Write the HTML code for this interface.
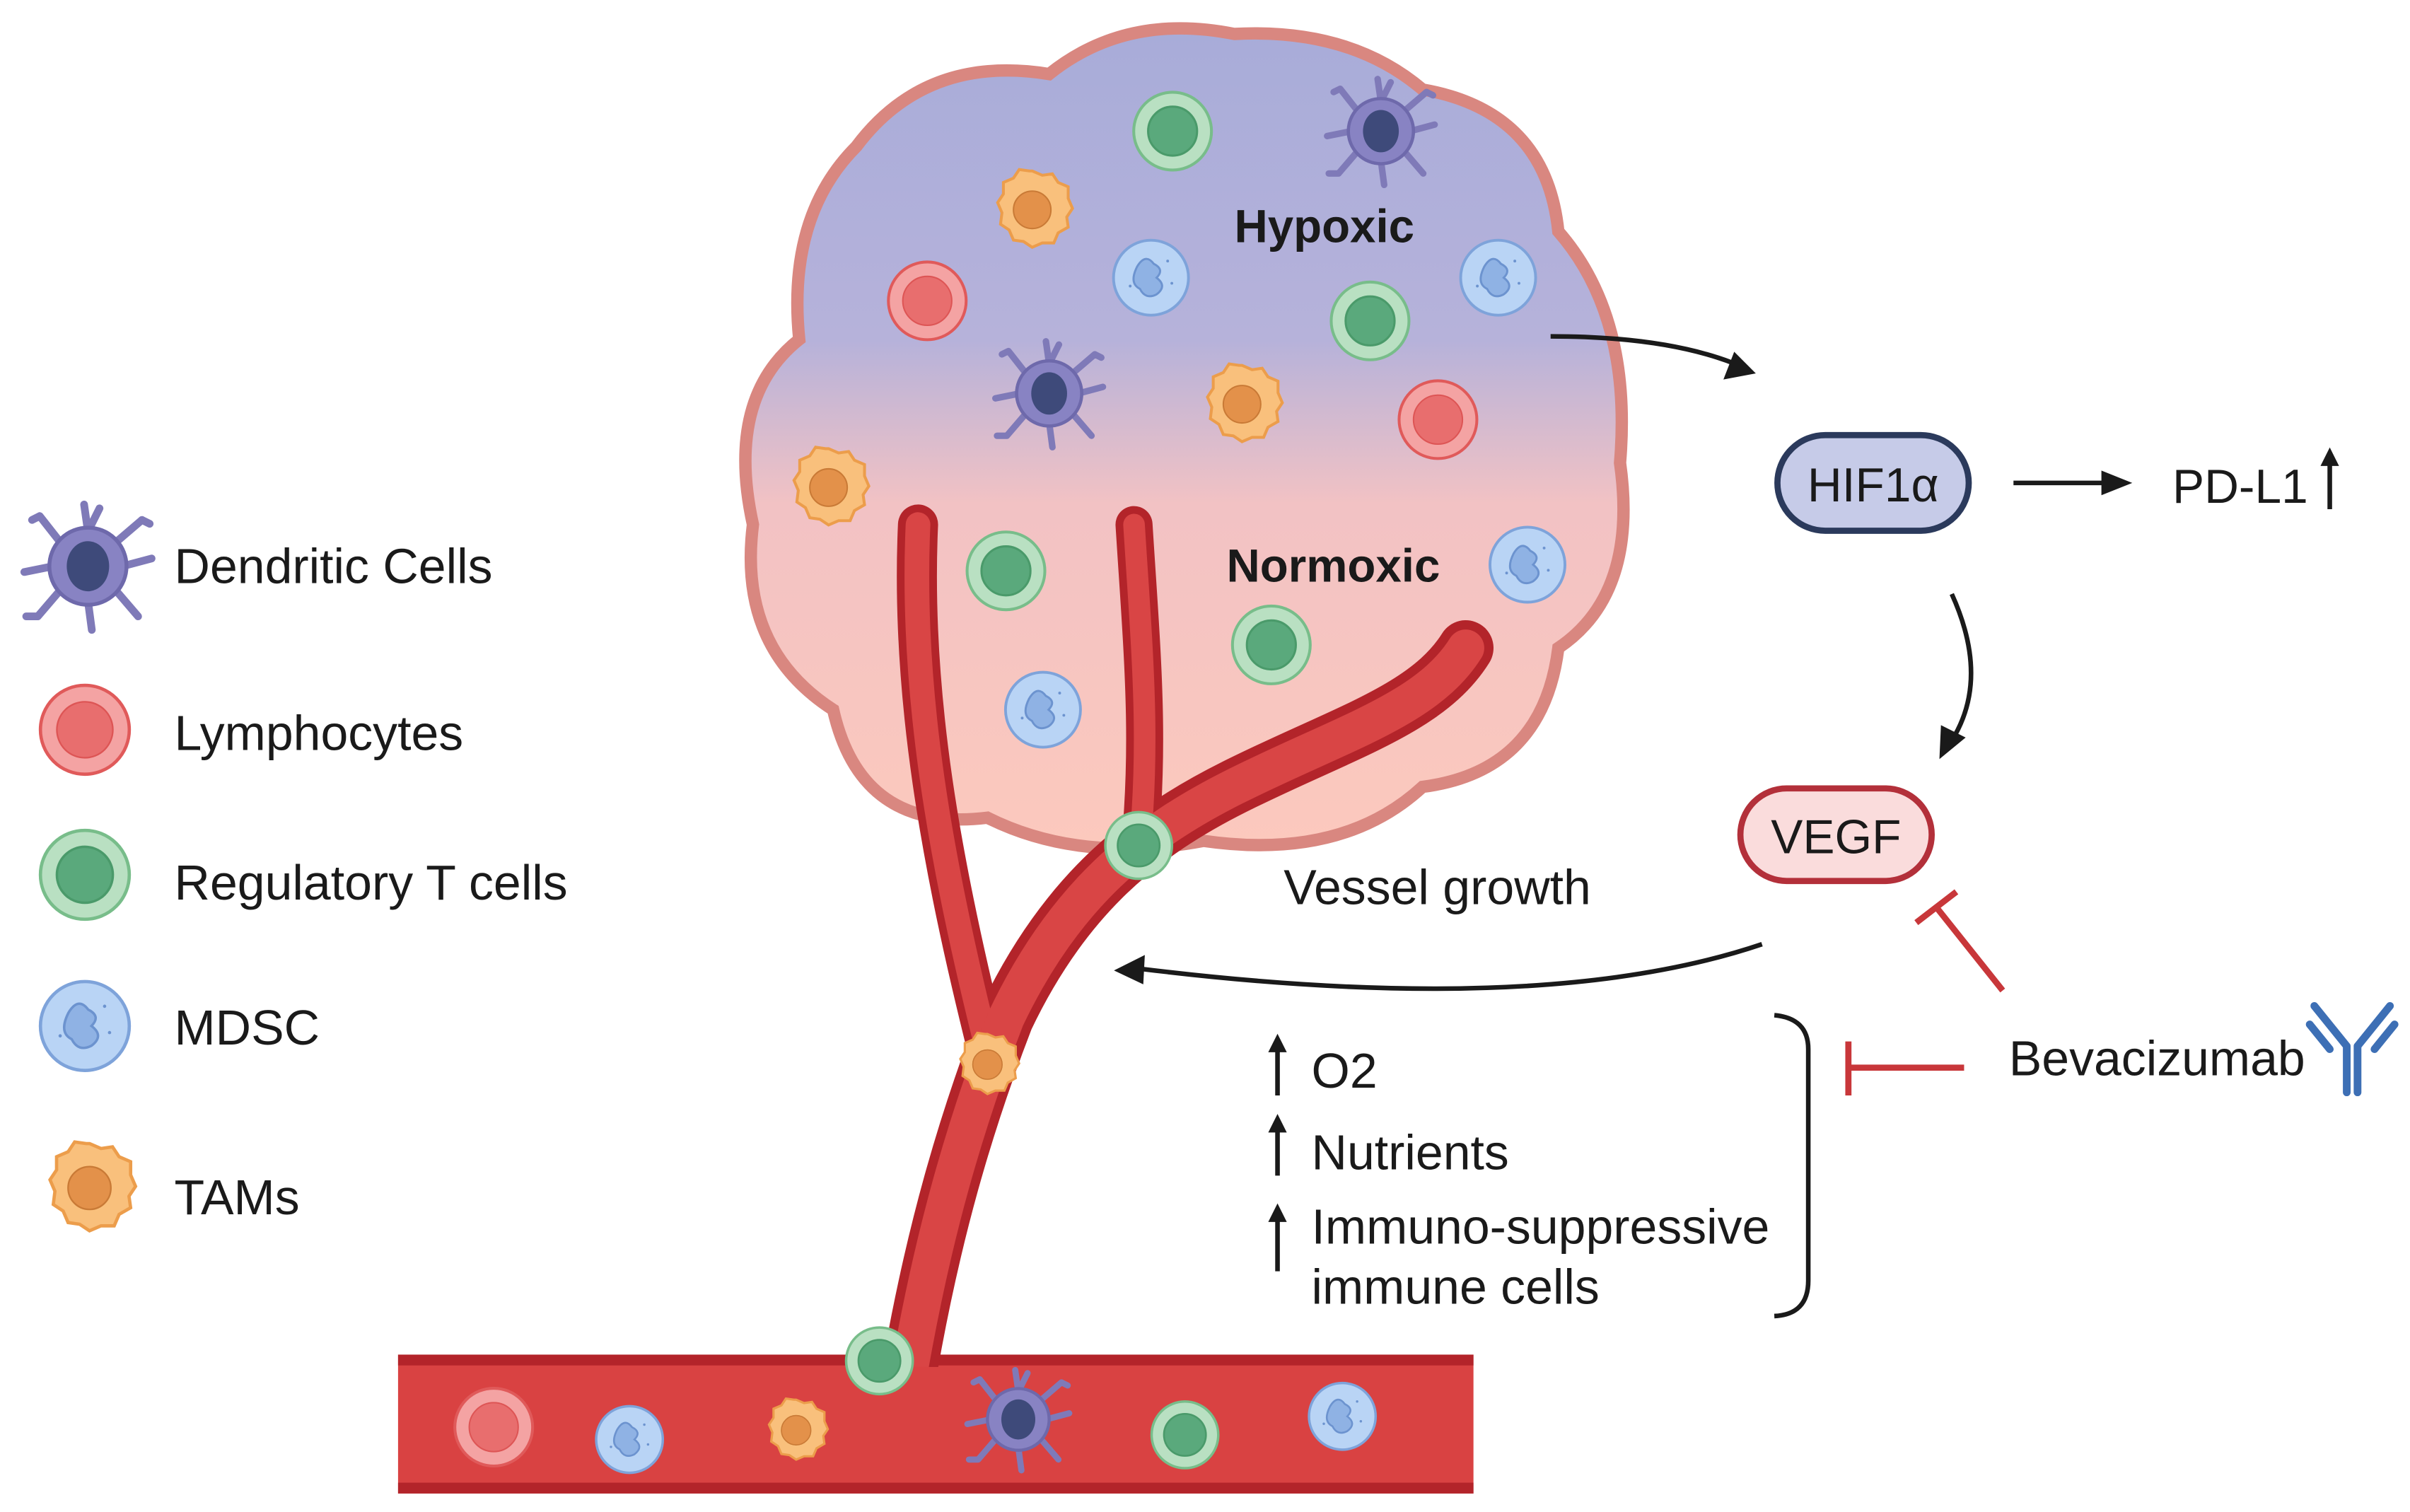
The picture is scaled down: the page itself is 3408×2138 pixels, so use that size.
<!DOCTYPE html>
<html><head><meta charset="utf-8"><style>html,body{margin:0;padding:0;background:#fff}svg{display:block}text{font-family:"Liberation Sans",Arial,sans-serif;fill:#1a1a1a}</style></head><body>
<svg width="3408" height="2138" viewBox="0 0 1562 980" preserveAspectRatio="none" xmlns="http://www.w3.org/2000/svg">
<defs>
<linearGradient id="tg" x1="0" y1="0" x2="0" y2="1">
<stop offset="0" stop-color="#a8acd9"/><stop offset="0.38" stop-color="#b6b2da"/><stop offset="0.58" stop-color="#f2c2c4"/><stop offset="1" stop-color="#fcc9bd"/></linearGradient>
<symbol id="treg" viewBox="-30 -30 60 60"><circle r="27" fill="#b9e0c2" stroke="#78bd8a" stroke-width="2"/><circle r="17" fill="#5aa97c" stroke="#4a9a6a" stroke-width="1.5"/></symbol>
<symbol id="lym" viewBox="-30 -30 60 60"><circle r="27" fill="#f4a3a3" stroke="#e05a5a" stroke-width="2"/><circle r="17" fill="#e86e6e" stroke="#d55" stroke-width="1"/></symbol>
<symbol id="mdsc" viewBox="-30 -30 60 60"><circle r="27" fill="#b9d4f5" stroke="#7ea3da" stroke-width="2"/><path d="M-10,-8 q6,-10 12,-2 q8,4 2,10 q8,6 0,12 q-8,4 -12,-4 q-8,-4 -2,-16z" fill="#8fb2e4" stroke="#6c93cf" stroke-width="1.5"/><circle cx="12" cy="-12" r="1" fill="#6c93cf"/><circle cx="15" cy="4" r="1" fill="#6c93cf"/><circle cx="-15" cy="6" r="1" fill="#6c93cf"/></symbol>
<symbol id="tam" viewBox="-30 -30 60 60"><path d="M0,-27 l7,3 l7,-1 l4,6 l7,3 l0,8 l3,7 l-4,6 l1,7 l-7,4 l-3,7 l-8,0 l-7,3 l-6,-4 l-7,-1 l-3,-7 l-6,-4 l1,-8 l-3,-7 l4,-6 l0,-8 l7,-3 l4,-6 l7,1z" fill="#f9c07c" stroke="#ec9d4b" stroke-width="2"/><circle r="13" fill="#e3914a" stroke="#c97a36" stroke-width="1"/></symbol>
<symbol id="dc" viewBox="-36 -36 72 72"><g stroke="#7f7ab8" stroke-width="4" stroke-linecap="round" fill="none"><path d="M0,-18 L-2,-32 M0,-18 l6,-12 M14,-12 L28,-24 M18,0 L33,-4 M14,12 L26,26 M0,18 L2,33 M-14,12 L-26,26 M-18,0 L-33,3 M-14,-12 L-25,-26 M-26,26 l-6,0 M28,-24 l4,2 M-25,-26 l-4,2"/></g><circle r="20" fill="#8883c3" stroke="#6e69ab" stroke-width="2"/><ellipse rx="11" ry="13" fill="#3e4a7a"/></symbol>
</defs>
<rect width="1562" height="980" fill="#fff"/>
<path d="M555,95 Q600,35 680,48 Q730,8 800,22 Q875,18 922,58 Q1002,72 1010,150 Q1058,205 1050,300 Q1062,385 1010,420 Q1000,500 922,510 Q870,558 780,545 Q700,560 640,530 Q558,540 540,460 Q478,420 488,340 Q470,258 518,220 Q510,140 555,95Z" fill="url(#tg)" stroke="#d98780" stroke-width="8"/>
<rect x="258" y="878" width="697" height="90" fill="#d94242"/>
<rect x="258" y="878" width="697" height="7" fill="#b3242a"/>
<rect x="258" y="961" width="697" height="7" fill="#b3242a"/>
<g fill="none" stroke-linecap="round">
<path d="M595,340 C590,450 610,560 640,680" stroke="#b3242a" stroke-width="26"/>
<path d="M735,340 C740,420 746,480 738,555" stroke="#b3242a" stroke-width="24"/>
<path d="M590,885 C605,800 625,730 652,660 C690,580 740,540 800,510 C870,475 925,460 950,420" stroke="#b3242a" stroke-width="36"/>
<path d="M595,340 C590,450 610,560 640,680" stroke="#d94545" stroke-width="16"/>
<path d="M735,340 C740,420 746,480 738,555" stroke="#d94545" stroke-width="14"/>
<path d="M590,885 C605,800 625,730 652,660 C690,580 740,540 800,510 C870,475 925,460 950,420" stroke="#d94545" stroke-width="24"/>
</g>
<rect x="270" y="886" width="680" height="74" fill="#d94242"/>
<g>
<use href="#treg" x="732" y="57" width="56" height="56"/><use href="#treg" x="860" y="180" width="56" height="56"/><use href="#treg" x="624" y="342" width="56" height="56"/><use href="#treg" x="796" y="390" width="56" height="56"/><use href="#treg" x="714" y="524" width="48" height="48"/><use href="#treg" x="546" y="858" width="48" height="48"/><use href="#treg" x="744" y="906" width="48" height="48"/><use href="#treg" x="23" y="535" width="64" height="64"/>
<use href="#lym" x="573" y="167" width="56" height="56"/><use href="#lym" x="904" y="244" width="56" height="56"/><use href="#lym" x="292" y="897" width="56" height="56"/><use href="#lym" x="23" y="441" width="64" height="64"/>
<use href="#mdsc" x="719" y="153" width="54" height="54"/><use href="#mdsc" x="944" y="153" width="54" height="54"/><use href="#mdsc" x="963" y="339" width="54" height="54"/><use href="#mdsc" x="649" y="433" width="54" height="54"/><use href="#mdsc" x="384" y="909" width="48" height="48"/><use href="#mdsc" x="846" y="894" width="48" height="48"/><use href="#mdsc" x="23" y="633" width="64" height="64"/>
<use href="#tam" x="641" y="108" width="56" height="56"/><use href="#tam" x="777" y="234" width="56" height="56"/><use href="#tam" x="509" y="288" width="56" height="56"/><use href="#tam" x="618" y="668" width="44" height="44"/><use href="#tam" x="494" y="905" width="44" height="44"/><use href="#tam" x="26" y="738" width="64" height="64"/>
<use href="#dc" x="857" y="47" width="76" height="76"/><use href="#dc" x="642" y="217" width="76" height="76"/><use href="#dc" x="624" y="884" width="72" height="72"/><use href="#dc" x="12" y="322" width="90" height="90"/>
</g>
<text x="800" y="157" font-size="30" font-weight="bold">Hypoxic</text>
<text x="795" y="377" font-size="30" font-weight="bold">Normoxic</text>
<g font-size="32"><text x="113" y="378">Dendritic Cells</text><text x="113" y="486">Lymphocytes</text><text x="113" y="583">Regulatory T cells</text><text x="113" y="677">MDSC</text><text x="113" y="787">TAMs</text></g>
<g fill="none" stroke="#1a1a1a" stroke-width="3">
<path d="M1005,218 Q1080,218 1125,236"/>
<path d="M1305,313 H1365"/>
<path d="M1265,385 Q1290,440 1265,480"/>
<path d="M1142,612 Q1000,660 740,628"/>
<path d="M1510,330 V297"/>
<path d="M828,710 V678 M828,762 V730 M828,824 V787"/>
<path d="M1150,658 Q1172,660 1172,680 V830 Q1172,852 1150,853"/>
</g>
<g fill="#1a1a1a">
<path d="M1138,242 L1117,246 L1124,228Z"/>
<path d="M1382,313 L1362,305 L1362,321Z"/>
<path d="M1257,492 L1258,470 L1274,478Z"/>
<path d="M722,629 L742,619 L741,638Z"/>
<path d="M1510,290 L1504,302 L1516,302Z"/>
<path d="M828,670 L822,682 L834,682Z M828,722 L822,734 L834,734Z M828,780 L822,792 L834,792Z"/>
</g>
<rect x="1152" y="282" width="124" height="62" rx="31" fill="#c6cbe8" stroke="#2b3a5c" stroke-width="4"/>
<text x="1214" y="325" font-size="31" text-anchor="middle">HIF1α</text>
<text x="1408" y="326" font-size="31">PD-L1</text>
<rect x="1128" y="511" width="124" height="60" rx="30" fill="#fadcdc" stroke="#b3303a" stroke-width="4"/>
<text x="1190" y="553" font-size="31" text-anchor="middle">VEGF</text>
<g stroke="#c8373a" stroke-width="4" fill="none">
<path d="M1298,642 L1255,588 M1242,598 L1268,578"/>
<path d="M1273,692 H1198 M1198,675 V710"/>
</g>
<text x="832" y="586" font-size="32">Vessel growth</text>
<g font-size="32"><text x="850" y="705">O2</text><text x="850" y="758">Nutrients</text><text x="850" y="806">Immuno-suppressive</text><text x="850" y="845">immune cells</text></g>
<text x="1302" y="697" font-size="32">Bevacizumab</text>
<g stroke="#3d6fb5" stroke-width="5" fill="none" stroke-linecap="round">
<path d="M1521,708 V678 M1528,708 V678 M1521,678 L1500,652 M1528,678 L1549,652 M1497,664 L1510,680 M1552,664 L1539,680"/>
</g>
</svg>
</body></html>
